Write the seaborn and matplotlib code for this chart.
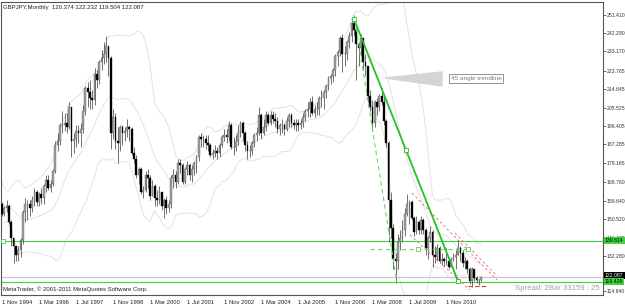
import numpy as np
import pandas as pd
import matplotlib
matplotlib.use("Agg")
import matplotlib.pyplot as plt
import matplotlib.transforms as mtrans
import seaborn as sns

# ---------------- data (GBPJPY monthly, Nov 1994 .. Feb 2012) ----------------
pre_close = [172, 172, 166, 159, 155, 156, 162, 160, 161, 166,
             163, 154, 152, 154, 157, 152, 154, 154, 155, 158]
first_open = 158.0
close = [153, 156, 157, 149, 141, 137, 133, 135, 140, 154, 158, 158, 156, 160,
         164, 159, 163, 161, 167, 170, 166, 168, 174, 187, 189, 197,
         197, 198, 196, 206, 189, 190, 194, 193, 195, 204, 215, 213,
         210, 209, 222, 219, 228, 230, 232, 236, 230, 193, 201, 189,
         188, 196, 193, 194, 196, 195, 183, 180, 172, 175, 164, 165,
         172, 171, 162, 167, 161, 160, 164, 157, 160, 156, 158, 171,
         172, 169, 178, 177, 169, 175, 177, 172, 175, 178, 181, 191,
         190, 190, 188, 187, 182, 183, 184, 183, 187, 191, 192, 191,
         197, 186, 186, 189, 193, 198, 193, 187, 184, 184, 188, 192,
         193, 202, 193, 196, 202, 198, 202, 200, 199, 195, 197, 197,
         195, 199, 202, 198, 197, 198, 197, 198, 201, 204, 205, 208,
         203, 205, 205, 210, 210, 213, 216, 220, 221, 224, 231, 233,
         240, 232, 232, 238, 241, 247, 244, 237, 235, 240, 228, 226,
         211, 206, 198, 208, 206, 211, 208, 199, 188, 160, 146, 131,
         130, 139, 141, 145, 153, 158, 159, 151, 144, 149, 145, 150,
         145, 136, 141, 144, 133, 132, 136, 130, 131, 130, 130, 127,
         131, 132, 133, 136, 134, 129, 130, 126, 120, 126, 121.5, 120.5,
         120.374, 122.087]
high = [159, 157, 160, 158, 150, 141, 137, 137, 141, 155, 161, 160, 160, 162,
        166, 165, 164, 166, 168, 172, 172, 170, 175, 189, 193, 198,
        204, 203, 203, 208, 206, 193, 197, 197, 198, 207, 216, 218,
        219, 214, 225, 224, 229, 234, 238, 241, 236, 231, 205, 203,
        196, 197, 197, 196, 200, 197, 196, 186, 182, 176, 176, 167,
        174, 175, 172, 170, 168, 165, 167, 164, 161, 162, 160, 172,
        175, 174, 180, 180, 178, 176, 179, 178, 177, 179, 182, 192,
        193, 192, 192, 192, 188, 185, 187, 186, 188, 192, 195, 195,
        199, 198, 191, 192, 197, 199, 199, 194, 189, 187, 189, 193,
        196, 206, 203, 200, 204, 203, 204, 204, 203, 201, 198, 200,
        198, 201, 203, 203, 200, 200, 200, 200, 203, 205, 208, 210,
        211, 207, 208, 211, 214, 214, 217, 221, 222, 225, 232, 234,
        241, 242, 236, 239, 243, 248, 251, 245, 238, 242, 240, 232,
        226, 214, 209, 209, 210, 212, 215, 212, 200, 189, 164, 148,
        134, 143, 145, 150, 156, 163, 160, 160, 152, 152, 150, 152,
        151, 146, 142, 147, 145, 137, 138, 137, 134, 132, 136, 131,
        132, 134, 135, 140, 137, 135, 132, 131, 127, 127, 126, 122.5,
        121.0, 122.232]
low = [152, 152, 154, 148, 137, 129, 130, 130, 132, 138, 149, 150, 152, 154,
       157, 157, 157, 158, 158, 164, 165, 164, 167, 173, 184, 187,
       193, 194, 193, 195, 181, 183, 186, 188, 186, 193, 202, 206,
       205, 205, 207, 215, 217, 224, 227, 228, 221, 185, 190, 185,
       178, 184, 187, 189, 191, 189, 182, 178, 171, 168, 163, 161,
       164, 166, 160, 162, 157, 157, 158, 155, 151, 153, 154, 156,
       166, 166, 168, 173, 168, 168, 172, 170, 169, 172, 173, 179,
       186, 186, 185, 184, 181, 180, 181, 180, 181, 186, 189, 188,
       189, 185, 182, 184, 187, 191, 189, 184, 180, 181, 182, 186,
       189, 192, 190, 192, 194, 197, 197, 198, 196, 193, 192, 193,
       192, 194, 196, 196, 195, 194, 194, 195, 196, 199, 201, 201,
       202, 201, 202, 202, 206, 205, 210, 214, 217, 218, 221, 226,
       231, 223, 226, 229, 235, 238, 241, 219, 226, 231, 224, 221,
       208, 204, 194, 196, 202, 204, 207, 197, 186, 139, 141, 126,
       119, 126, 135, 139, 142, 152, 148, 150, 142, 143, 143, 143,
       143, 133, 131, 139, 127, 129, 130, 129, 128, 127, 128, 126,
       127, 130, 126, 133, 130, 127, 126, 124, 118.5, 117, 120, 119,
       118.0, 119.504]

year_ticks = ["1 Nov 1994", "1 Mar 1996", "1 Jul 1997", "1 Nov 1998", "1 Mar 2000",
              "1 Jul 2001", "1 Nov 2002", "1 Mar 2004", "1 Jul 2005", "1 Nov 2006",
              "1 Mar 2008", "1 Jul 2009", "1 Nov 2010"]
price_ticks = [251.410, 242.290, 233.170, 223.765, 214.645, 205.525, 196.405, 187.285,
               178.165, 168.760, 159.640, 150.520, 141.400, 132.280, 114.840]
hline_levels = [139.814, 119.429]
bid_price = 122.087

# ---------------- helpers ----------------
W, H = 625, 304
def px_x(px):   # pixel x -> bar index
    return (px - 2) / 2.315
def px_y(py):   # pixel y -> price
    return 251.41 - (py - 14.5) * 0.4933

n = len(close)
idx = np.arange(n)
opens = [first_open] + close[:-1]
df = pd.DataFrame({"bar": idx, "open": opens, "high": high, "low": low, "close": close})

allc = pd.Series(pre_close + close, index=np.arange(-len(pre_close), n))
mid = allc.rolling(20).mean()
sd = allc.rolling(20).std(ddof=0)
bb = pd.DataFrame({"bar": allc.index, "mid": mid.values,
                   "up": (mid + 2 * sd).values, "lo": (mid - 2 * sd).values}).dropna()

sns.set_theme(style="white")
plt.rcParams["font.family"] = ["Liberation Sans", "DejaVu Sans"]

fig = plt.figure(figsize=(W / 100, H / 100), dpi=100)
fig.patch.set_facecolor("white")
ax = fig.add_axes([1 / W, 1 - 295 / H, (603 - 1) / W, (295 - 2) / H])
ax.set_facecolor("white")

# Bollinger bands
for col in ["up", "mid", "lo"]:
    sns.lineplot(data=bb, x="bar", y=col, ax=ax, color="#e2e2e2", lw=0.7, zorder=1)

# candles
bull = df[df.close >= df.open]
bear = df[df.close < df.open]
ax.vlines(df.bar, df.low, df.high, color="#4a4a4a", lw=0.55, zorder=3)
ax.bar(bull.bar, bull.close - bull.open, bottom=bull.open, width=0.75,
       color="#a0a0a0", edgecolor="#555555", linewidth=0.25, zorder=4)
ax.bar(bear.bar, bear.open - bear.close, bottom=bear.close, width=0.75,
       color="#000000", edgecolor="#000000", linewidth=0.25, zorder=4)

# horizontal lines
for lv in hline_levels:
    ax.axhline(lv, color="#3fd43f", lw=0.8, zorder=2)
ax.axhline(bid_price, color="#c8c8c8", lw=0.8, zorder=2)
ax.plot([px_x(3)], [hline_levels[0]], marker="s", ms=2.5, mfc="white", mec="#3fd43f", mew=0.6, zorder=6)

# trend lines (solid green + midpoint/ends)
tx = [px_x(354), px_x(458)]
ty = [px_y(19), px_y(281)]
ax.plot(tx, ty, color="#22c322", lw=1.3, zorder=5)
ax.plot([tx[0], (tx[0] + tx[1]) / 2, tx[1]], [ty[0], (ty[0] + ty[1]) / 2, ty[1]],
        ls="none", marker="s", ms=2.5, mfc="white", mec="#22c322", mew=0.6, zorder=6)
# dashed 45-degree line
ax.plot([px_x(355), px_x(397)], [px_y(20), px_y(283)], color="#66dd66", lw=0.8,
        dashes=(4, 3), zorder=5)
# dashed horizontal green
ax.plot([px_x(370), px_x(468)], [px_y(249), px_y(249)], color="#66dd66", lw=0.8,
        dashes=(4, 3), zorder=5)
ax.plot([px_x(418), px_x(468)], [px_y(249), px_y(249)], ls="none", marker="s", ms=2.5,
        mfc="white", mec="#66cc66", mew=0.6, zorder=6)

# red dashed channel
red = "#f06060"
for (x0, y0, x1, y1) in [(412, 193, 497, 280), (410, 235, 470, 290), (455, 233, 497, 276)]:
    ax.plot([px_x(x0), px_x(x1)], [px_y(y0), px_y(y1)], color=red, lw=0.6, dashes=(3, 3), zorder=5)
ax.plot([px_x(468), px_x(487)], [px_y(286), px_y(286)], color="#e03030", lw=0.8, dashes=(4, 2), zorder=5)

# callout
tri = plt.Polygon([[px_x(385), px_y(78)], [px_x(442), px_y(72)], [px_x(442), px_y(86)]],
                  closed=True, color="#d4d4d4", zorder=5)
ax.add_patch(tri)
ax.text(px_x(451), px_y(78.5), "45 angle trendline", fontsize=4.6, color="#808080",
        va="center", ha="left", zorder=7,
        bbox=dict(boxstyle="square,pad=0.25", fc="white", ec="#808080", lw=0.6))

# axes limits
ax.set_xlim(px_x(1), px_x(603))
ax.set_ylim(px_y(295), px_y(2))

# y axis right
ax.yaxis.tick_right()
ax.set_yticks(price_ticks)
ax.set_yticklabels([f"{v:.3f}" for v in price_ticks], fontsize=3.7, color="#333333")
ax.tick_params(axis="y", length=2, width=0.5, pad=0.6, colors="#333333")
# x axis
xt = np.arange(0, 16 * len(year_ticks), 16)
ax.set_xticks(xt)
ax.set_xticklabels(year_ticks, fontsize=4.2, color="#222222", ha="left")
ax.tick_params(axis="x", length=2, width=0.5, pad=1.5, colors="#222222")
ax.set_xlabel("")
ax.set_ylabel("")
for s in ax.spines.values():
    s.set_color("#555555")
    s.set_linewidth(0.8)

# price boxes
blend = mtrans.blended_transform_factory(ax.transAxes, ax.transData)
bx = 1.0035
ax.text(bx, hline_levels[0], "139.814", transform=blend, fontsize=3.7, color="black",
        va="center", ha="left", bbox=dict(boxstyle="square,pad=0.2", fc="#3fd43f", ec="none"),
        clip_on=False, zorder=8)
ax.text(bx, px_y(275.5), f"{bid_price:.3f}", transform=blend, fontsize=3.7, color="white",
        va="center", ha="left", bbox=dict(boxstyle="square,pad=0.2", fc="black", ec="none"),
        clip_on=False, zorder=8)
ax.text(bx, px_y(281.5), "119.429", transform=blend, fontsize=3.7, color="black",
        va="center", ha="left", bbox=dict(boxstyle="square,pad=0.2", fc="#3fd43f", ec="none"),
        clip_on=False, zorder=8)

# overlay texts
fig.text(3 / W, 1 - 7 / H, "GBPJPY,Monthly  120.374 122.232 119.504 122.087", fontsize=4.3,
         color="#222222", va="center", ha="left")
fig.text(3 / W, 1 - 289 / H, "MetaTrader, \u00a9 2001-2011 MetaQuotes Software Corp.", fontsize=4.3,
         color="#222222", va="center", ha="left")
fig.text(515 / W, 1 - 288 / H, "Spread: 2Bar 33159 : 25", fontsize=5.6, color="#a0a0a0",
         va="center", ha="left")

fig.savefig("out.png", dpi=100)
